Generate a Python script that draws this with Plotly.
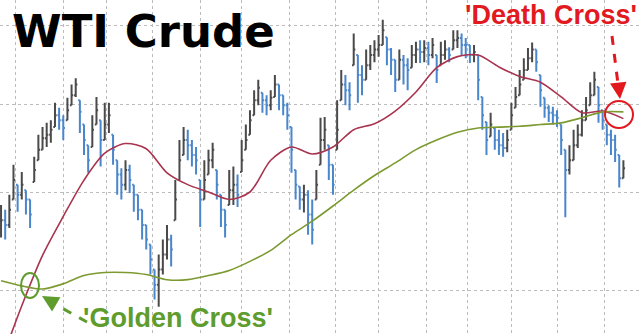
import math
import pandas as pd
import plotly.graph_objects as go

# ---- data ----
close = [87.0, 86.5, 88.1, 91.3, 89.7, 90.8, 89.2, 87.6, 92.4, 94.7,
         96.0, 96.4, 97.0, 98.7, 98.1, 97.2, 99.3, 101.1, 102.4, 99.1,
         95.8, 93.5, 97.0, 99.3, 95.8, 97.6, 98.7, 94.7, 91.9, 90.8,
         92.4, 91.3, 89.7, 88.1, 86.5, 85.0, 83.0, 80.5, 82.0, 83.5,
         85.0, 84.0, 89.2, 93.5, 95.8, 95.2, 94.1, 93.5, 89.2, 91.3,
         93.5, 94.7, 90.8, 88.1, 86.5, 90.2, 90.8, 89.7, 93.5, 95.8,
         98.1, 100.5, 102.0, 100.5, 99.9, 100.8, 102.4, 101.1, 99.9, 98.7,
         94.7, 90.8, 89.2, 89.7, 87.6, 86.0, 90.8, 95.8, 97.0, 93.0,
         90.8, 97.0, 102.4, 101.7, 101.1, 106.8, 103.6, 103.0, 104.8, 106.1,
         106.8, 107.4, 109.3, 106.8, 105.5, 103.0, 105.5, 104.8, 104.2, 106.1,
         106.8, 106.5, 107.0, 106.1, 107.4, 104.2, 106.1, 106.8, 106.1, 108.0,
         108.3, 107.4, 107.4, 106.1, 106.5, 103.0, 98.7, 95.8, 97.6, 95.8,
         95.2, 94.9, 95.8, 98.7, 100.9, 102.4, 104.2, 105.7, 106.8, 105.2,
         101.7, 99.6, 99.0, 98.7, 98.4, 95.8, 92.4, 93.5, 95.2, 96.4,
         98.1, 99.3, 101.1, 103.0, 99.9, 98.1, 96.4, 95.8, 94.7, 91.5,
         92.6]
high = [88.6, 88.1, 89.7, 93.0, 90.8, 92.2, 90.2, 89.2, 93.9, 96.4,
        97.3, 97.8, 98.1, 100.2, 99.6, 98.7, 100.8, 102.4, 103.2, 100.5,
        97.6, 95.2, 98.7, 100.9, 98.1, 100.2, 100.2, 96.4, 93.5, 92.6,
        93.5, 93.0, 90.8, 89.7, 88.1, 86.5, 84.5, 82.0, 83.5, 85.0,
        86.5, 85.5, 91.3, 95.8, 97.3, 97.0, 95.8, 95.0, 91.3, 93.5,
        94.7, 95.5, 92.4, 89.7, 88.1, 92.4, 92.8, 91.9, 95.8, 97.6,
        99.3, 101.7, 103.0, 101.4, 101.1, 101.7, 103.6, 102.4, 101.1, 100.2,
        97.3, 92.4, 90.6, 90.8, 90.2, 89.2, 92.4, 98.4, 98.5, 95.2,
        93.0, 100.5, 104.2, 103.6, 102.7, 108.9, 106.1, 104.8, 106.8, 107.4,
        108.0, 108.7, 110.7, 108.4, 107.0, 105.5, 106.8, 106.1, 105.7, 107.4,
        107.8, 108.0, 108.0, 107.8, 108.3, 106.1, 107.8, 108.0, 107.1, 109.3,
        109.3, 108.9, 108.3, 107.4, 107.4, 106.1, 100.9, 97.9, 99.0, 97.2,
        97.0, 96.6, 97.0, 100.2, 102.1, 104.2, 105.7, 107.0, 107.7, 106.8,
        103.6, 100.8, 99.9, 99.7, 99.3, 97.6, 94.7, 95.2, 97.0, 97.6,
        99.3, 100.9, 102.7, 104.0, 102.1, 99.3, 97.6, 97.0, 96.4, 94.1,
        93.5]
low = [85.2, 85.0, 86.2, 89.2, 87.9, 89.2, 87.6, 86.2, 91.1, 93.5,
       94.7, 95.0, 95.5, 97.3, 97.0, 95.8, 98.1, 99.9, 100.9, 96.6,
       94.1, 92.1, 95.0, 97.6, 92.8, 95.8, 96.6, 93.0, 89.7, 89.2,
       90.2, 89.9, 87.9, 87.0, 85.0, 84.0, 81.5, 79.1, 78.4, 81.5,
       83.0, 82.3, 87.0, 91.3, 94.1, 93.5, 92.8, 91.9, 86.3, 89.2,
       91.9, 92.6, 89.2, 86.3, 85.2, 88.6, 88.6, 88.4, 92.2, 94.7,
       96.4, 98.7, 99.9, 99.0, 98.7, 99.3, 100.9, 99.3, 98.7, 97.0,
       92.1, 89.2, 88.1, 87.8, 85.5, 84.5, 89.2, 93.0, 94.7, 91.3,
       89.7, 94.7, 100.5, 99.9, 99.3, 104.8, 100.2, 101.1, 103.0, 104.2,
       105.2, 105.9, 107.4, 104.8, 103.6, 101.5, 103.0, 102.4, 101.7, 104.5,
       105.1, 105.1, 105.2, 104.8, 105.7, 102.6, 104.8, 105.5, 105.2, 106.8,
       107.0, 106.1, 105.7, 105.1, 105.2, 100.5, 97.0, 94.1, 96.2, 94.7,
       94.1, 93.9, 94.4, 97.0, 99.6, 101.1, 103.0, 104.2, 105.2, 104.0,
       99.7, 98.4, 97.9, 97.6, 97.3, 94.1, 87.3, 91.9, 93.5, 94.9,
       96.2, 98.1, 99.9, 101.1, 97.8, 97.0, 95.2, 94.1, 93.3, 90.5,
       91.5]
# moving averages, sampled every 5th bar
ma50 = [73.4, 78.5, 83.4, 87.4, 91.3, 94.3, 95.4, 94.8, 92.1, 90.8,
        90.0, 89.2, 90.0, 93.5, 95.0, 94.2, 95.0, 97.0, 97.7, 99.2,
        101.5, 104.5, 105.9, 106.1, 104.6, 103.4, 102.7, 100.9, 99.0, 99.2,
        98.3]
ma200 = [80.9, 80.4, 80.1, 80.6, 81.4, 81.7, 81.7, 81.5, 81.0, 81.0,
         81.4, 81.9, 82.8, 83.9, 85.5, 86.9, 88.5, 90.2, 91.8, 93.2,
         94.7, 95.8, 96.7, 97.2, 97.3, 97.4, 97.6, 97.8, 98.4, 99.1,
         99.1]
grid_levels = [80, 90, 100, 110]
title_text = "WTI Crude"
death_text = "'Death Cross'"
golden_text = "'Golden Cross'"

dates = pd.bdate_range("2012-04-20", periods=len(close), freq="2B")
ma_dates = dates[::5]
open_ = [min(max(p, l), h) for p, l, h in zip([close[0]] + close[:-1], low, high)]

W, H = 640, 334
def px(x):
    return x / W
def py(y):
    return 1 - y / H

RED_MA = "#a8344f"
GREEN_MA = "#7d9a30"
RED = "#e2191f"
GREEN = "#5e9c2e"

fig = go.Figure()
fig.add_trace(go.Ohlc(
    x=dates, open=open_, high=high, low=low, close=close,
    increasing=dict(line=dict(color="#4a4a4a", width=2)),
    decreasing=dict(line=dict(color="#4a86cc", width=2)),
    tickwidth=0.4, showlegend=False, hoverinfo="skip"))
fig.add_trace(go.Scatter(x=ma_dates, y=ma50, mode="lines",
                         line=dict(color=RED_MA, width=1.6, shape="spline", smoothing=0.8),
                         showlegend=False, hoverinfo="skip"))
fig.add_trace(go.Scatter(x=ma_dates, y=ma200, mode="lines",
                         line=dict(color=GREEN_MA, width=1.6, shape="spline", smoothing=0.8),
                         showlegend=False, hoverinfo="skip"))

fig.update_layout(
    width=W, height=H, margin=dict(l=0, r=0, t=0, b=0),
    paper_bgcolor="white", plot_bgcolor="white",
    xaxis=dict(type="date", range=["2012-04-19 12:00", "2013-06-26"],
               rangebreaks=[dict(bounds=["sat", "mon"])],
               rangeslider=dict(visible=False),
               tick0="2012-05-01", dtick="M1", showticklabels=False, ticks="",
               showgrid=True, gridcolor="#bcbcbc", griddash="dot", gridwidth=1,
               zeroline=False, showline=False),
    yaxis=dict(type="log", range=[math.log10(75.88), math.log10(113.36)],
               tickmode="array", tickvals=grid_levels, showticklabels=False, ticks="",
               showgrid=True, gridcolor="#bcbcbc", griddash="dot", gridwidth=1,
               zeroline=False, showline=False),
)

shapes = [
    dict(type="circle", xref="paper", yref="paper",
         x0=px(605), x1=px(633), y0=py(128), y1=py(101),
         line=dict(color=RED, width=2)),
    dict(type="circle", xref="paper", yref="paper",
         x0=px(21), x1=px(39), y0=py(298), y1=py(273),
         line=dict(color=GREEN, width=2)),
    dict(type="line", xref="paper", yref="paper",
         x0=px(612), y0=py(36), x1=px(618.5), y1=py(88),
         line=dict(color=RED, width=3, dash="dash")),
    dict(type="line", xref="paper", yref="paper",
         x0=px(87), y0=py(322), x1=px(51), y1=py(302),
         line=dict(color=GREEN, width=3, dash="dash")),
]
fig.update_layout(shapes=shapes)

fig.add_annotation(text=title_text, xref="paper", yref="paper",
                   x=px(10), y=py(31), xanchor="left", yanchor="middle",
                   showarrow=False,
                   font=dict(family="DejaVu Sans", size=45, color="black", weight="bold"))
fig.add_annotation(text=death_text, xref="paper", yref="paper",
                   x=px(463), y=py(15), xanchor="left", yanchor="middle",
                   showarrow=False,
                   font=dict(family="Liberation Sans", size=27, color=RED, weight="bold"))
fig.add_annotation(text=golden_text, xref="paper", yref="paper",
                   x=px(82), y=py(318), xanchor="left", yanchor="middle",
                   showarrow=False, borderpad=0,
                   font=dict(family="Liberation Sans", size=27, color=GREEN, weight="bold"))
# arrow heads
fig.add_annotation(text="", xref="paper", yref="paper", x=px(620), y=py(99),
                   showarrow=True, ax=-1.5, ay=-14, arrowhead=2, arrowsize=1.1,
                   arrowwidth=3, arrowcolor=RED, standoff=0)
fig.add_annotation(text="", xref="paper", yref="paper", x=px(42), y=py(296),
                   showarrow=True, ax=12, ay=7, arrowhead=2, arrowsize=1.1,
                   arrowwidth=3, arrowcolor=GREEN, standoff=0)

fig.write_html("out.html")
